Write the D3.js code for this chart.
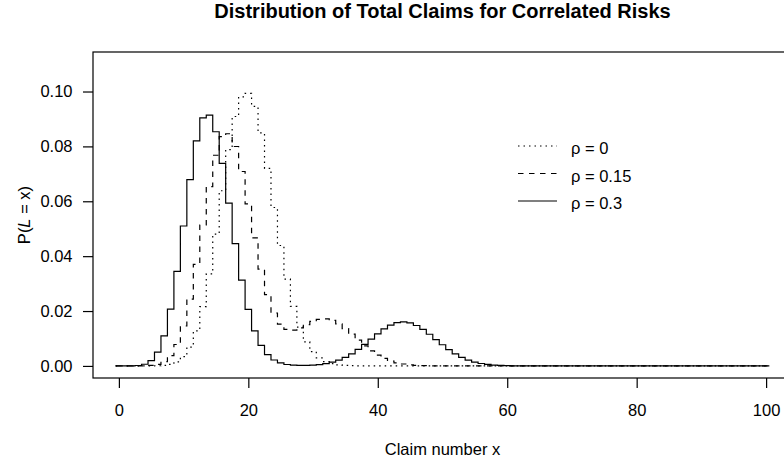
<!DOCTYPE html>
<html>
<head>
<meta charset="utf-8">
<script src="https://cdn.jsdelivr.net/npm/d3@7"></script>
<style>
body { margin: 0; background: #fff; }
svg text { font-family: "Liberation Sans", Arial, sans-serif; fill: #000; }
</style>
</head>
<body>
<div id="chart-view"></div>
<script>
// data
let claimNumbers = [0,1,2,3,4,5,6,7,8,9,10,11,12,13,14,15,16,17,18,19,20,21,22,23,24,25,26,27,28,29,30,
    31,32,33,34,35,36,37,38,39,40,41,42,43,44,45,46,47,48,49,50,51,52,53,54,55,56,57,58,59,60,
    61,62,63,64,65,66,67,68,69,70,71,72,73,74,75,76,77,78,79,80,81,82,83,84,85,86,87,88,89,90,
    91,92,93,94,95,96,97,98,99,100];

let rho0 = [0,0,0,0,0,0.00002,0.00006,0.00020,0.00058,0.00148,0.00336,0.00688,0.01275,0.02158,0.03353,
    0.04806,0.06383,0.07885,0.09090,0.09807,0.09930,0.09457,0.08490,0.07198,0.05773,0.04388,0.03164,
    0.02168,0.01413,0.00877,0.00519,0.00293,0.00158,0.00081,0.00040,0.00019,0.00009,0.00004,0.00002,
    0,0,0,0,0,0,0,0,0,0,0,0,0,0,0,0,0,0,0,0,0,0,0,0,0,0,0,0,0,0,0,0,0,0,0,0,0,0,0,0,0,0,
    0,0,0,0,0,0,0,0,0,0,0,0,0,0,0,0,0,0,0,0,0,0];

let rho015 = [0,0,0,0.00001,0.00004,0.00018,0.00057,0.00157,0.00373,0.00781,0.01455,0.02438,0.03704,
    0.05136,0.06537,0.07677,0.08355,0.08460,0.07997,0.07085,0.05908,0.04665,0.03524,0.02595,0.01929,
    0.01521,0.01332,0.01307,0.01385,0.01506,0.01623,0.01700,0.01714,0.01657,0.01535,0.01361,0.01156,
    0.00941,0.00734,0.00549,0.00394,0.00272,0.00180,0.00114,0.00070,0.00041,0.00023,0.00012,0.00006,
    0.00003,0.00002,0,0,0,0,0,0,0,0,0,0,0,0,0,0,0,0,0,0,0,0,0,0,0,0,0,0,0,0,0,0,0,0,0,0,0,0,
    0,0,0,0,0,0,0,0,0,0,0,0,0,0];

let rho03 = [0,0,0.00003,0.00016,0.00062,0.00194,0.00500,0.01093,0.02069,0.03442,0.05100,0.06792,
    0.08201,0.09037,0.09142,0.08533,0.07379,0.05936,0.04456,0.03130,0.02064,0.01280,0.00748,0.00413,
    0.00216,0.00108,0.00052,0.00026,0.00017,0.00019,0.00029,0.00050,0.00084,0.00136,0.00210,0.00312,
    0.00442,0.00601,0.00783,0.00977,0.01171,0.01347,0.01486,0.01575,0.01603,0.01568,0.01473,0.01330,
    0.01154,0.00962,0.00771,0.00594,0.00440,0.00313,0.00214,0.00141,0.00089,0.00054,0.00031,0.00018,
    0.00009,0.00005,0.00002,0.00001,0,0,0,0,0,0,0,0,0,0,0,0,0,0,0,0,0,0,0,0,0,0,0,0,0,0,0,0,
    0,0,0,0,0,0,0,0,0];

let seriesLabels = ["0", "0.15", "0.3"];
let xTicks = [0, 20, 40, 60, 80, 100];
let yTicks = [0, 0.02, 0.04, 0.06, 0.08, 0.10];

let width = 784;
let height = 467;
let plot = { left: 93, right: 792, top: 52, bottom: 378 };

let series = [
    { values: rho0, dash: "1.5,4" },
    { values: rho015, dash: "5.5,5.5" },
    { values: rho03, dash: null }
];

let svg = d3.select('#chart-view')
    .append('svg')
    .attr("width", width)
    .attr("height", height);

// R style 4% padding on both axes
let xScale = d3.scaleLinear().domain([-4, 104]).range([plot.left, plot.right]);
let yScale = d3.scaleLinear().domain([-0.0044, 0.1144]).range([plot.bottom, plot.top]);

let line = d3.line()
    .x(function (d) { return xScale(d[0]); })
    .y(function (d) { return yScale(d[1]); })
    .curve(d3.curveStepAfter);

// each count drawn as a bar outline centred on its integer
series.forEach(function (s) {
    let pts = claimNumbers.map(function (x, i) { return [x - 0.5, s.values[i]]; });
    let last = claimNumbers.length - 1;
    pts.push([claimNumbers[last] + 0.5, s.values[last]]);
    svg.append("path")
        .attr("d", line(pts))
        .attr("fill", "none")
        .attr("stroke", "#000")
        .attr("stroke-width", 1.2)
        .attr("stroke-dasharray", s.dash);
});

// box
svg.append("rect")
    .attr("x", plot.left)
    .attr("y", plot.top)
    .attr("width", plot.right - plot.left)
    .attr("height", plot.bottom - plot.top)
    .attr("fill", "none")
    .attr("stroke", "#000")
    .attr("stroke-width", 1.2);

let xAxis = svg.append("g")
    .attr("transform", "translate(0," + plot.bottom + ")")
    .call(d3.axisBottom(xScale).tickValues(xTicks).tickSize(10).tickPadding(16));

let yAxis = svg.append("g")
    .attr("transform", "translate(" + plot.left + ",0)")
    .call(d3.axisLeft(yScale).tickValues(yTicks).tickSize(10).tickPadding(10.5).tickFormat(d3.format(".2f")));

[xAxis, yAxis].forEach(function (a) {
    a.select(".domain").remove();
    a.selectAll("line").attr("stroke", "#000").attr("stroke-width", 1.2);
    a.selectAll("text").style("font-size", "16.5px").style("font-family", null);
});

// titles
svg.append("text")
    .attr("x", (plot.left + plot.right) / 2)
    .attr("y", 18)
    .style("text-anchor", "middle")
    .style("font-size", "20px")
    .style("font-weight", "bold")
    .text("Distribution of Total Claims for Correlated Risks");

svg.append("text")
    .attr("x", (plot.left + plot.right) / 2)
    .attr("y", 455)
    .style("text-anchor", "middle")
    .style("font-size", "16.5px")
    .text("Claim number x");

let yTitle = svg.append("text")
    .attr("transform", "translate(30," + ((plot.top + plot.bottom) / 2) + ")rotate(-90)")
    .style("text-anchor", "middle")
    .style("font-size", "16.5px");
yTitle.append("tspan").text("P(");
yTitle.append("tspan").style("font-style", "italic").text("L");
yTitle.append("tspan").text(" = x)");

// legend
let legendRows = [146, 173.5, 201];
series.forEach(function (s, i) {
    svg.append("line")
        .attr("x1", 518).attr("x2", 557)
        .attr("y1", legendRows[i]).attr("y2", legendRows[i])
        .attr("stroke", "#000")
        .attr("stroke-width", 1.2)
        .attr("stroke-dasharray", s.dash);
    svg.append("text")
        .attr("x", 571)
        .attr("y", legendRows[i] + 8)
        .style("font-size", "16.5px")
        .text("\u03c1 = " + seriesLabels[i]);
});
</script>
</body>
</html>
